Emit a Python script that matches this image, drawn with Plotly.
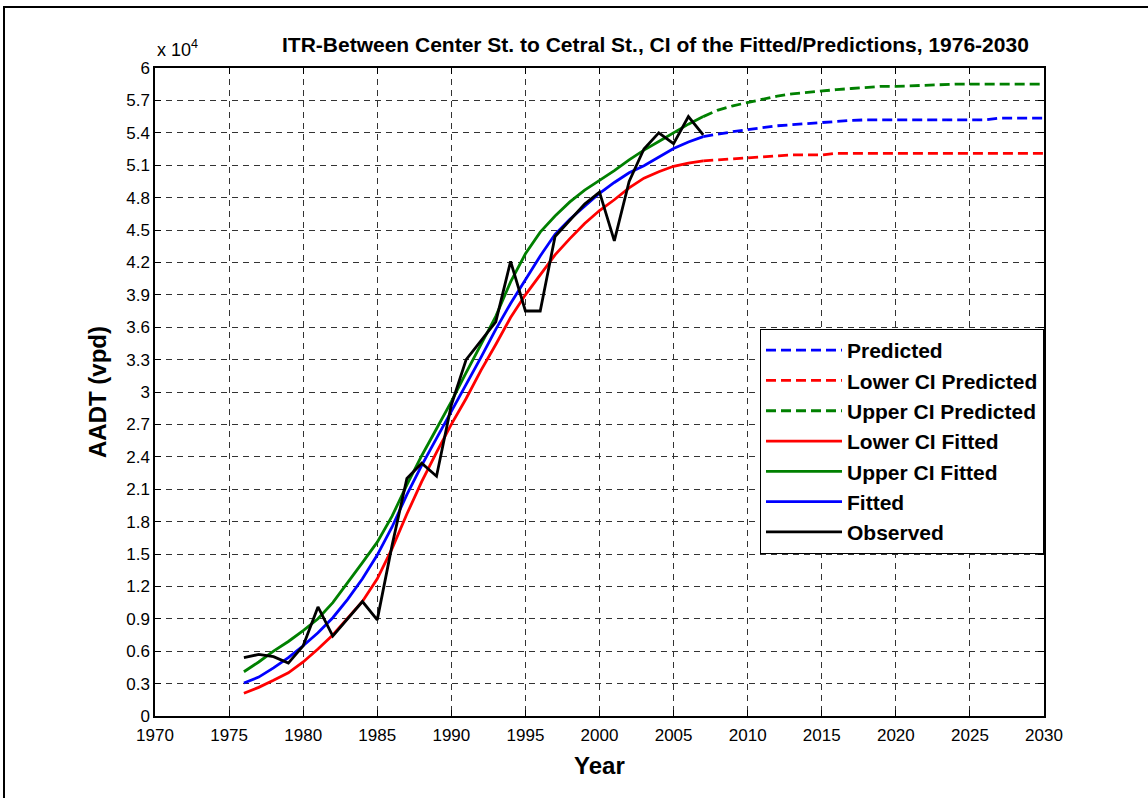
import plotly.graph_objects as go

# ---------------- data ----------------
fit_years = list(range(1976, 2008))
observed = [5400, 5700, 5500, 4900, 6500, 10100, 7400, 9000, 10600, 8900,
            15800, 22000, 23400, 22200, 28800, 33000, 34700, 36500, 42100, 37500,
            37500, 44400, 45900, 47400, 48500, 44000, 49500, 52500, 54000, 53000,
            55500, 53800]
fitted = [3050, 3600, 4450, 5400, 6500, 7700, 9100, 10800, 12700, 14900,
          17500, 20500, 23200, 25700, 28200, 30600, 33200, 35800, 38200, 40400,
          42600, 44600, 46000, 47200, 48400, 49400, 50300, 50950, 51750, 52550,
          53150, 53650]
upper_fit = [4100, 5000, 6000, 6900, 7900, 9000, 10500, 12300, 14200, 16100,
             18500, 21400, 24100, 26600, 29100, 31800, 34400, 37000, 40200, 42800,
             44800, 46300, 47600, 48700, 49600, 50500, 51500, 52400, 53200, 54000,
             54800, 55500]
lower_fit = [2100, 2650, 3300, 4000, 5000, 6200, 7500, 9000, 10600, 12700,
             15500, 18700, 21700, 24400, 27000, 29400, 32000, 34400, 36900, 39000,
             40900, 42700, 44200, 45600, 46800, 47800, 48900, 49800, 50400, 50900,
             51200, 51400]

pred_years = list(range(2007, 2031))
predicted = [53650, 53900, 54100, 54300, 54500, 54650, 54750, 54850, 54950, 55100,
             55150, 55200, 55200, 55200, 55200, 55200, 55200, 55200, 55200, 55200,
             55350, 55350, 55350, 55350]
upper_pred = [55500, 56100, 56500, 56800, 57100, 57400, 57600, 57750, 57900, 58000,
              58100, 58200, 58300, 58300, 58350, 58400, 58500, 58500, 58500, 58500,
              58500, 58500, 58500, 58500]
lower_pred = [51400, 51500, 51600, 51700, 51800, 51900, 51950, 51950, 51950, 52100,
              52100, 52100, 52100, 52100, 52100, 52100, 52100, 52100, 52100, 52100,
              52100, 52100, 52100, 52100]

y_tickvals = list(range(0, 60001, 3000))
y_ticktext = ["0", "0.3", "0.6", "0.9", "1.2", "1.5", "1.8", "2.1", "2.4", "2.7", "3",
              "3.3", "3.6", "3.9", "4.2", "4.5", "4.8", "5.1", "5.4", "5.7", "6"]
x_tickvals = list(range(1970, 2031, 5))

title_text = "ITR-Between Center St. to Cetral St., CI of the Fitted/Predictions, 1976-2030"

# ---------------- figure ----------------
W, H = 1148, 798
L, R, T, B = 155, 104, 68, 82
pw, ph = W - L - R, H - T - B

def px(xp):
    return (xp - L) / pw

def py(yp):
    return (H - B - yp) / ph

BLUE, RED, GREEN, BLACK = "#0000FF", "#FF0000", "#008000", "#000000"
LW = 2.8
DASH = "10px,5px"
FONT = "Liberation Sans, Arial, sans-serif"

fig = go.Figure()
fig.add_trace(go.Scatter(x=pred_years, y=predicted, mode="lines", name="Predicted",
                         line=dict(color=BLUE, width=LW, dash=DASH)))
fig.add_trace(go.Scatter(x=pred_years, y=lower_pred, mode="lines", name="Lower CI Predicted",
                         line=dict(color=RED, width=LW, dash=DASH)))
fig.add_trace(go.Scatter(x=pred_years, y=upper_pred, mode="lines", name="Upper CI Predicted",
                         line=dict(color=GREEN, width=LW, dash=DASH)))
fig.add_trace(go.Scatter(x=fit_years, y=lower_fit, mode="lines", name="Lower CI Fitted",
                         line=dict(color=RED, width=LW)))
fig.add_trace(go.Scatter(x=fit_years, y=upper_fit, mode="lines", name="Upper CI Fitted",
                         line=dict(color=GREEN, width=LW)))
fig.add_trace(go.Scatter(x=fit_years, y=fitted, mode="lines", name="Fitted",
                         line=dict(color=BLUE, width=LW)))
fig.add_trace(go.Scatter(x=fit_years, y=observed, mode="lines", name="Observed",
                         line=dict(color=BLACK, width=LW)))

axis_common = dict(
    showline=True, linecolor="black", linewidth=1.5, mirror="ticks",
    ticks="inside", ticklen=6, tickcolor="black", tickwidth=1,
    showgrid=True, gridcolor="#333333", gridwidth=1, griddash="6px,5px",
    zeroline=False,
    tickfont=dict(family=FONT, size=17, color="black"),
)

fig.update_xaxes(range=[1970, 2030], tickvals=x_tickvals, ticklabelstandoff=3, **axis_common)
fig.update_yaxes(range=[0, 60000], tickvals=y_tickvals, ticktext=y_ticktext, **axis_common)

fig.update_layout(
    width=W, height=H,
    margin=dict(l=L, r=R, t=T, b=B),
    paper_bgcolor="white", plot_bgcolor="white",
    font=dict(family=FONT, color="black"),
    showlegend=True,
    legend=dict(
        x=1.0, y=py(329), xanchor="right", yanchor="top",
        bgcolor="white", bordercolor="black", borderwidth=1,
        font=dict(family=FONT, size=21, color="black", weight="bold"),
        itemwidth=76, tracegroupgap=0,
    ),
    annotations=[
        dict(text="<b>" + title_text + "</b>", xref="paper", yref="paper",
             x=px(655), y=py(45), xanchor="center", yanchor="middle", showarrow=False,
             font=dict(size=21, family=FONT)),
        dict(text="x 10<sup>4</sup>", xref="paper", yref="paper",
             x=px(155), y=py(48), xanchor="left", yanchor="middle", showarrow=False,
             font=dict(size=18, family=FONT)),
        dict(text="<b>Year</b>", xref="paper", yref="paper",
             x=0.5, y=py(766), xanchor="center", yanchor="middle", showarrow=False,
             font=dict(size=24, family=FONT)),
        dict(text="<b>AADT (vpd)</b>", xref="paper", yref="paper",
             x=px(97), y=0.5, xanchor="center", yanchor="middle", showarrow=False,
             textangle=-90,
             font=dict(size=24, family=FONT)),
    ],
    shapes=[
        dict(type="rect", xref="paper", yref="paper",
             x0=px(4), x1=px(1170), y0=py(830), y1=py(7),
             line=dict(color="black", width=2), fillcolor="rgba(0,0,0,0)", layer="above"),
    ],
)

fig.write_html("out.html", config={"displayModeBar": False},
               post_script="document.body.style.margin='0';document.body.style.overflow='hidden';")
